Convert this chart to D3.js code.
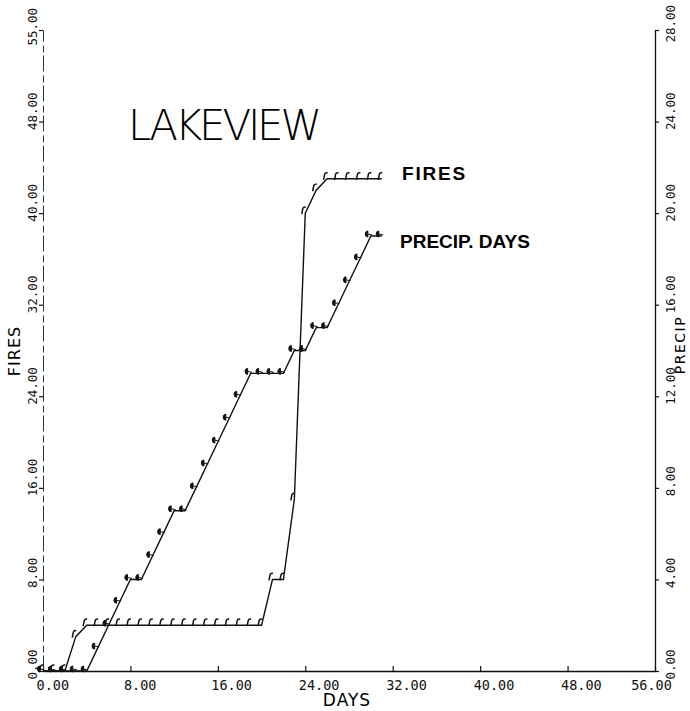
<!DOCTYPE html>
<html>
<head>
<meta charset="utf-8">
<script src="https://cdn.jsdelivr.net/npm/d3@7"></script>
<style>
  body { margin: 0; background: #fff; }
</style>
</head>
<body>
<div class="root"></div>
<script>
// Daily values
const days = [0, 1, 2, 3, 4, 5, 6, 7, 8, 9, 10, 11, 12, 13, 14, 15,
              16, 17, 18, 19, 20, 21, 22, 23, 24, 25, 26, 27, 28, 29, 30, 31];
const fires = [0, 0, 0, 3, 4, 4, 4, 4, 4, 4, 4, 4, 4, 4, 4, 4,
               4, 4, 4, 4, 4, 8, 8, 15, 40, 42, 43, 43, 43, 43, 43, 43];
const precip = [0, 0, 0, 0, 0, 1, 2, 3, 4, 4, 5, 6, 7, 7, 8, 9,
                10, 11, 12, 13, 13, 13, 13, 14, 14, 15, 15, 16, 17, 18, 19, 19];

// Tick values and their printed labels
const dayTicks = [0, 8, 16, 24, 32, 40, 48, 56];
const dayTickLabels = ["0.00", "8.00", "16.00", "24.00", "32.00", "40.00", "48.00", "56.00"];
const fireTicks = [0, 8, 16, 24, 32, 40, 48, 56];
const fireTickLabels = ["0.00", "8.00", "16.00", "24.00", "32.00", "40.00", "48.00", "55.00"];
const precipTicks = [0, 4, 8, 12, 16, 20, 24, 28];
const precipTickLabels = ["0.00", "4.00", "8.00", "12.00", "16.00", "20.00", "24.00", "28.00"];

var width = 690, height = 711;
var plot = { left: 43, right: 655, top: 30, bottom: 671 };
var tickFont = "DejaVu Sans Mono";

const xScale = d3.scaleLinear().domain([0, 56]).range([plot.left, plot.right]);
const yFires = d3.scaleLinear().domain([0, 56]).range([plot.bottom, plot.top]);
const yPrecip = d3.scaleLinear().domain([0, 28]).range([plot.bottom, plot.top]);

var svg = d3.select(".root").append("svg")
    .attr("width", width)
    .attr("height", height);

// Bottom axis (DAYS)
svg.append("g")
    .attr("transform", "translate(0," + plot.bottom + ")")
    .call(d3.axisBottom(xScale).tickValues(dayTicks)
        .tickFormat((d, i) => dayTickLabels[i])
        .tickSizeInner(-5).tickSizeOuter(0))
    .call(g => {
        g.attr("font-family", tickFont).attr("font-size", 13.5);
        g.select(".domain").attr("stroke", "#111").attr("stroke-width", 1.4);
        g.selectAll(".tick line").attr("stroke", "#111").attr("stroke-width", 1.2);
        g.selectAll(".tick text")
            .attr("fill", "#111")
            .attr("x", -7).attr("y", 19).attr("dy", null)
            .attr("text-anchor", "start");
        g.selectAll(".tick text").filter((d, i, n) => i === n.length - 1)
            .attr("x", -4).attr("text-anchor", "middle");
    });

// Left axis (FIRES)
svg.append("g")
    .attr("transform", "translate(" + plot.left + ",0)")
    .call(d3.axisLeft(yFires).tickValues(fireTicks)
        .tickFormat((d, i) => fireTickLabels[i])
        .tickSizeInner(4).tickSizeOuter(0))
    .call(g => {
        g.attr("font-family", tickFont).attr("font-size", 12.5);
        g.select(".domain").attr("stroke", "#333").attr("stroke-width", 1)
            .attr("stroke-dasharray", "16,3,7,4");
        g.selectAll(".tick line").attr("stroke", "#111").attr("stroke-width", 1.2);
        g.selectAll(".tick text")
            .attr("fill", "#111")
            .attr("x", 0).attr("y", 0).attr("dy", null)
            .attr("text-anchor", "start")
            .attr("transform", "translate(-6,8) rotate(-90)");
        g.selectAll(".tick text").filter((d, i, n) => i === n.length - 1)
            .attr("transform", "translate(-6,15) rotate(-90)");
    });

// Right axis (PRECIP)
svg.append("g")
    .attr("transform", "translate(" + plot.right + ",0)")
    .call(d3.axisRight(yPrecip).tickValues(precipTicks)
        .tickFormat((d, i) => precipTickLabels[i])
        .tickSizeInner(4).tickSizeOuter(0))
    .call(g => {
        g.attr("font-family", tickFont).attr("font-size", 12.5);
        g.select(".domain").attr("stroke", "#111").attr("stroke-width", 1.3);
        g.selectAll(".tick line").attr("stroke", "#111").attr("stroke-width", 1.2);
        g.selectAll(".tick text")
            .attr("fill", "#111")
            .attr("x", 0).attr("y", 0).attr("dy", null)
            .attr("text-anchor", "start")
            .attr("transform", "translate(20,8) rotate(-90)");
        g.selectAll(".tick text").filter((d, i, n) => i === n.length - 1)
            .attr("transform", "translate(20,12) rotate(-90)");
    });

// Axis titles
svg.append("text")
    .attr("font-family", "DejaVu Sans")
    .attr("font-size", 17)
    .attr("letter-spacing", 1)
    .attr("text-anchor", "middle")
    .attr("x", 347)
    .attr("y", 706)
    .text("DAYS");

svg.append("text")
    .attr("font-family", "DejaVu Sans")
    .attr("font-size", 16)
    .attr("letter-spacing", 1)
    .attr("text-anchor", "middle")
    .attr("transform", "translate(20,351) rotate(-90)")
    .text("FIRES");

svg.append("text")
    .attr("font-family", "DejaVu Sans")
    .attr("font-size", 14)
    .attr("letter-spacing", 1.5)
    .attr("text-anchor", "middle")
    .attr("transform", "translate(685,345) rotate(-90)")
    .text("PRECIP");

// Title
svg.append("text")
    .attr("font-family", "DejaVu Sans")
    .attr("font-weight", 200)
    .attr("font-size", 42)
    .attr("x", 128)
    .attr("y", 140)
    .attr("textLength", 194)
    .attr("lengthAdjust", "spacing")
    .text("LAKEVIEW");

// Series
const fireData = days.map((d, i) => ({ day: d, value: fires[i] }));
const precipData = days.map((d, i) => ({ day: d, value: precip[i] }));

const fireLine = d3.line()
    .x(d => xScale(d.day))
    .y(d => yFires(d.value));
const precipLine = d3.line()
    .x(d => xScale(d.day))
    .y(d => yPrecip(d.value));

svg.append("path").datum(fireData)
    .attr("fill", "none")
    .attr("stroke", "#111")
    .attr("stroke-width", 1.4)
    .attr("d", fireLine);

svg.append("path").datum(precipData)
    .attr("fill", "none")
    .attr("stroke", "#111")
    .attr("stroke-width", 1.4)
    .attr("d", precipLine);

// Plotter-style symbols: a hook for fires, a filled blob for precip
svg.append("g").selectAll("path")
    .data(fireData)
    .join("path")
    .attr("transform", d => "translate(" + xScale(d.day) + "," + yFires(d.value) + ")")
    .attr("fill", "none")
    .attr("stroke", "#111")
    .attr("stroke-width", 1.5)
    .attr("d", "M-3.5,1 L-2.5,-4.5 Q-2,-6.5 0.5,-6");

svg.append("g").selectAll("path")
    .data(precipData)
    .join("path")
    .attr("transform", d => "translate(" + xScale(d.day) + "," + yPrecip(d.value) + ")")
    .attr("fill", "#111")
    .attr("stroke", "#111")
    .attr("stroke-width", 1)
    .attr("d", "M-3,-5 A2.6,3 0 1,0 -3,1 Z M-3,-2 L1.5,-1");

// Series labels
svg.append("text")
    .attr("font-family", "Liberation Sans")
    .attr("font-weight", "bold")
    .attr("font-size", 19)
    .attr("letter-spacing", 1.8)
    .attr("x", 402)
    .attr("y", 180)
    .text("FIRES");

svg.append("text")
    .attr("font-family", "Liberation Sans")
    .attr("font-weight", "bold")
    .attr("font-size", 19)
    .attr("x", 400)
    .attr("y", 248)
    .text("PRECIP. DAYS");
</script>
</body>
</html>
